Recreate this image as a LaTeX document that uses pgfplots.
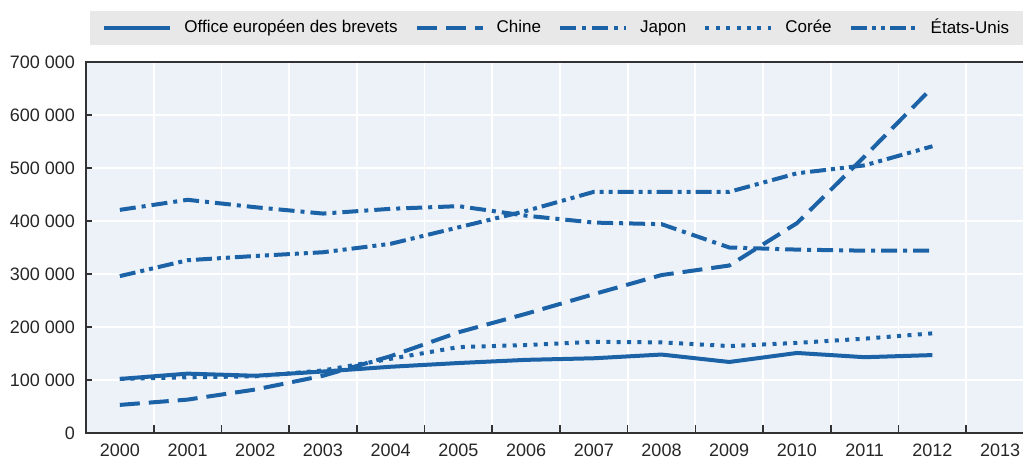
\documentclass[border=0pt]{standalone}
\usepackage{fontspec}
\setmainfont{Liberation Sans}
\usepackage{pgfplots}
\pgfplotsset{compat=1.18}

\definecolor{oecdblue}{RGB}{28,98,166}
\definecolor{plotbg}{RGB}{237,242,248}
\definecolor{legbg}{RGB}{232,232,232}
\definecolor{axisdark}{RGB}{50,50,50}

\begin{document}
\begin{tikzpicture}
  \begin{axis}[
      name=ax,
      at={(0,0)}, anchor=south west,
      scale only axis,
      width=474pt, height=185.5pt,
      xmin=1999.5, xmax=2013.5,
      ymin=0, ymax=700000,
      axis background/.style={fill=plotbg},
      axis line style={axisdark, line width=1.3pt},
      xtick={2000,...,2013},
      major x tick style={draw=none},
      minor xtick={2000.5,2001.5,...,2012.5},
      xminorgrids,
      minor x tick style={axisdark, line width=0.8pt},
      minor tick length=4pt,
      xtick pos=bottom,
      ytick={0,100000,...,700000},
      ytick pos=left,
      ymajorgrids,
      major tick length=3pt,
      tick align=inside,
      y tick style={axisdark, line width=0.8pt},
      grid style={white, line width=0.9pt},
      minor grid style={white, line width=0.9pt},
      scaled y ticks=false,
      /pgf/number format/assume math mode=true,
      tick label style={font=\fontsize{9}{10}\selectfont, text=black!85},
      yticklabel style={xshift=-2pt, /pgf/number format/.cd, fixed, 1000 sep={\ }},
      xticklabel style={yshift=-2pt, /pgf/number format/.cd, 1000 sep={}},
      legend columns=-1,
      legend image code/.code={\draw[#1] (0pt,0pt) -- (33pt,0pt);},
      legend style={
        at={(rel axis cs:0,1)}, anchor=south west,
        xshift=2pt, yshift=8.5pt,
        fill=legbg, draw=none,
        font=\fontsize{8.5}{9.5}\selectfont,
        inner xsep=6pt, inner ysep=2pt,
        /tikz/every even column/.append style={column sep=6.5pt},
        /tikz/every odd column/.append style={column sep=4pt},
      },
      every axis plot/.append style={oecdblue, line width=2pt},
    ]
    % Office europeen des brevets
    \addplot[solid] coordinates {
      (2000,102000) (2001,112000) (2002,108000) (2003,116000)
      (2004,125000) (2005,132000) (2006,138000) (2007,141000)
      (2008,148000) (2009,134000) (2010,151000) (2011,143000)
      (2012,147000)
    };
    \addlegendentry{Office européen des brevets}
    % Chine
    \addplot[dash pattern=on 10pt off 4.5pt] coordinates {
      (2000,53000) (2001,63000) (2002,82000) (2003,108000)
      (2004,145000) (2005,190000) (2006,225000) (2007,262000)
      (2008,298000) (2009,316000) (2010,396000) (2011,522000)
      (2012,652000)
    };
    \addlegendentry{Chine}
    % Japon
    \addplot[dash pattern=on 8pt off 3pt on 2pt off 3pt] coordinates {
      (2000,421000) (2001,440000) (2002,426000) (2003,414000)
      (2004,423000) (2005,428000) (2006,410000) (2007,397000)
      (2008,394000) (2009,350000) (2010,346000) (2011,344000)
      (2012,344000)
    };
    \addlegendentry{Japon}
    % Coree
    \addplot[dash pattern=on 2pt off 3.2pt] coordinates {
      (2000,102000) (2001,105000) (2002,107000) (2003,118000)
      (2004,140000) (2005,162000) (2006,166000) (2007,172000)
      (2008,171000) (2009,164000) (2010,170000) (2011,178000)
      (2012,188000)
    };
    \addlegendentry{Corée}
    % Etats-Unis
    \addplot[dash pattern=on 8pt off 2.5pt on 2pt off 2.5pt on 2pt off 2.5pt] coordinates {
      (2000,296000) (2001,326000) (2002,334000) (2003,341000)
      (2004,357000) (2005,388000) (2006,419000) (2007,455000)
      (2008,455000) (2009,455000) (2010,490000) (2011,505000)
      (2012,541000)
    };
    \addlegendentry{États-Unis}
  \end{axis}
  \pgfresetboundingbox
  \path (-43pt,-16pt) rectangle (468.5pt,216.5pt);
\end{tikzpicture}
\end{document}
